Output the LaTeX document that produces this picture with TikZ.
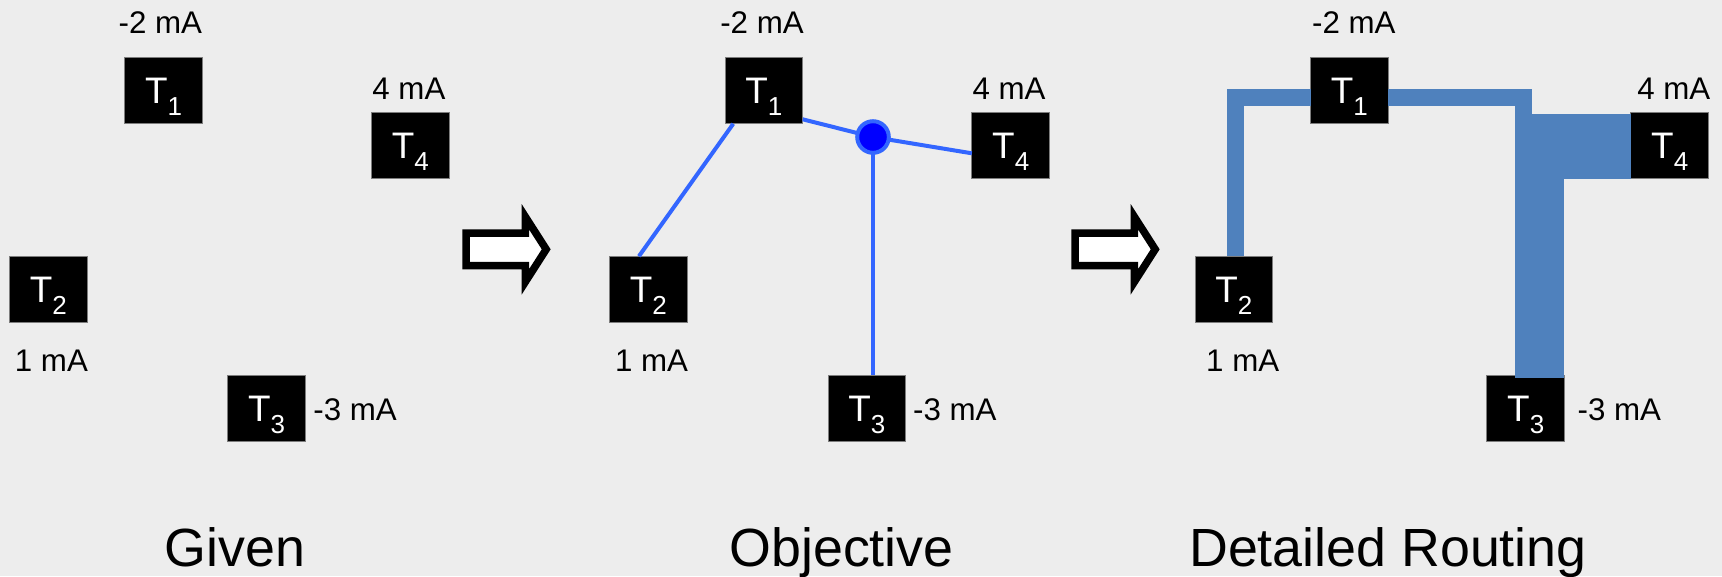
\documentclass[tikz,border=0pt]{standalone}
\usepackage{fontspec}
\setmainfont{Liberation Sans}
\usetikzlibrary{calc}

\definecolor{bg}{RGB}{237,237,237}
\definecolor{routeblue}{RGB}{79,129,189}
\definecolor{linkblue}{RGB}{51,102,255}
\definecolor{nodeblue}{RGB}{0,0,255}
\definecolor{boxedge}{RGB}{125,125,125}

% terminal name with a dropped index, e.g. T_1
\newcommand{\termname}[1]{T\raisebox{-3.3pt}{\fontsize{7.4}{8}\selectfont #1}}

\begin{document}
\begin{tikzpicture}[x=0.1mm, y=-0.1mm,
  terminal/.style={rectangle, fill=black, draw=boxedge, line width=0.1mm,
    minimum width=7.77mm, minimum height=6.65mm, inner sep=0pt, outer sep=0pt,
    text=white, font=\fontsize{10.5}{12}\selectfont,
    text height=7.5pt, text depth=0pt},
  current/.style={anchor=base, inner sep=0pt, font=\fontsize{8.9}{10}\selectfont},
  caption/.style={anchor=base, inner sep=0pt, font=\fontsize{15.3}{18}\selectfont},
  link/.style={draw=linkblue, line width=0.4mm},
  steiner/.style={circle, fill=nodeblue, draw=linkblue, line width=0.4mm,
    minimum size=3.16mm, inner sep=0pt, outer sep=0pt},
  thinwire/.style={draw=routeblue, line width=1.67mm, line join=miter},
  blockarrow/.style={draw=black, fill=white, line width=0.75mm, line join=miter}
]
% canvas
\useasboundingbox (0,0) rectangle (1722,576);
\fill[bg] (0,0) rectangle (1722,576);

% ---------------- Given ----------------
\node[terminal] (a1) at (163.7,90.5)  {\termname{1}};
\node[terminal] (a2) at (48.3,289.5)  {\termname{2}};
\node[terminal] (a3) at (266.7,408.3) {\termname{3}};
\node[terminal] (a4) at (410.4,145.5) {\termname{4}};
\node[current] (ia1) at (160.3,33.3) {-2 mA};
\node[current] (ia4) at (408.9,99)   {4 mA};
\node[current] (ia2) at (51.4,371)   {1 mA};
\node[current] (ia3) at (355.1,420)  {-3 mA};
\node[caption] (ga) at (235,566) {Given};

% step arrows
\draw[blockarrow] (466.05,233.05) -- (525.45,233.05) -- (525.45,216.9) -- (546.2,249.3)
  -- (525.45,281.7) -- (525.45,265.55) -- (466.05,265.55) -- cycle;
\draw[blockarrow, shift={(609,0)}] (466.05,233.05) -- (525.45,233.05) -- (525.45,216.9) -- (546.2,249.3)
  -- (525.45,281.7) -- (525.45,265.55) -- (466.05,265.55) -- cycle;

% ---------------- Objective ----------------
\node[terminal] (b1) at (763.9,90.5)  {\termname{1}};
\node[terminal] (b2) at (648.4,289.5) {\termname{2}};
\node[terminal] (b3) at (866.9,408.3) {\termname{3}};
\node[terminal] (b4) at (1010.7,145.5) {\termname{4}};
\node[current] (ib1) at (762,33.3)   {-2 mA};
\node[current] (ib4) at (1009.1,99)  {4 mA};
\node[current] (ib2) at (651.6,371)  {1 mA};
\node[current] (ib3) at (954.8,420)  {-3 mA};
\node[caption] (gb) at (841.6,566) {Objective};

\coordinate (sp) at (873,137);
\draw[link] ($(b2.north)+(-9.5,0)$) -- ($(b1.south west)+(8.2,0)$);
\draw[link] ($(b1.east)+(0,28.8)$) -- (sp) -- ($(b4.west)+(0,7.8)$);
\draw[link] (sp) -- (sp |- b3.north);
\node[steiner] (s) at (sp) {};

% ---------------- Detailed Routing ----------------
\node[terminal] (c1) at (1349.4,90.5)  {\termname{1}};
\node[terminal] (c2) at (1233.9,289.5) {\termname{2}};
\node[terminal] (c3) at (1525.7,408.3) {\termname{3}};
\node[terminal] (c4) at (1669.7,145.5) {\termname{4}};
\node[current] (ic1) at (1353.8,33.3) {-2 mA};
\node[current] (ic4) at (1673.8,99)   {4 mA};
\node[current] (ic2) at (1242.7,371)  {1 mA};
\node[current] (ic3) at (1619.4,420)  {-3 mA};
\node[caption] (gc) at (1388,566) {Detailed Routing};

% narrow wires from T2 and T1
\draw[thinwire] ($(c2.north)+(1.6,0)$) |- ($(c1.west)+(0,6.9)$);
\draw[thinwire] ($(c1.east)+(0,6.9)$) -| (1523.3,120);
% wide trunk joining T3 and T4
\fill[routeblue] (1515,114.3) rectangle (1564,377.7);
\fill[routeblue] (1515,114.3) rectangle (c4.south west);
\end{tikzpicture}
\end{document}
